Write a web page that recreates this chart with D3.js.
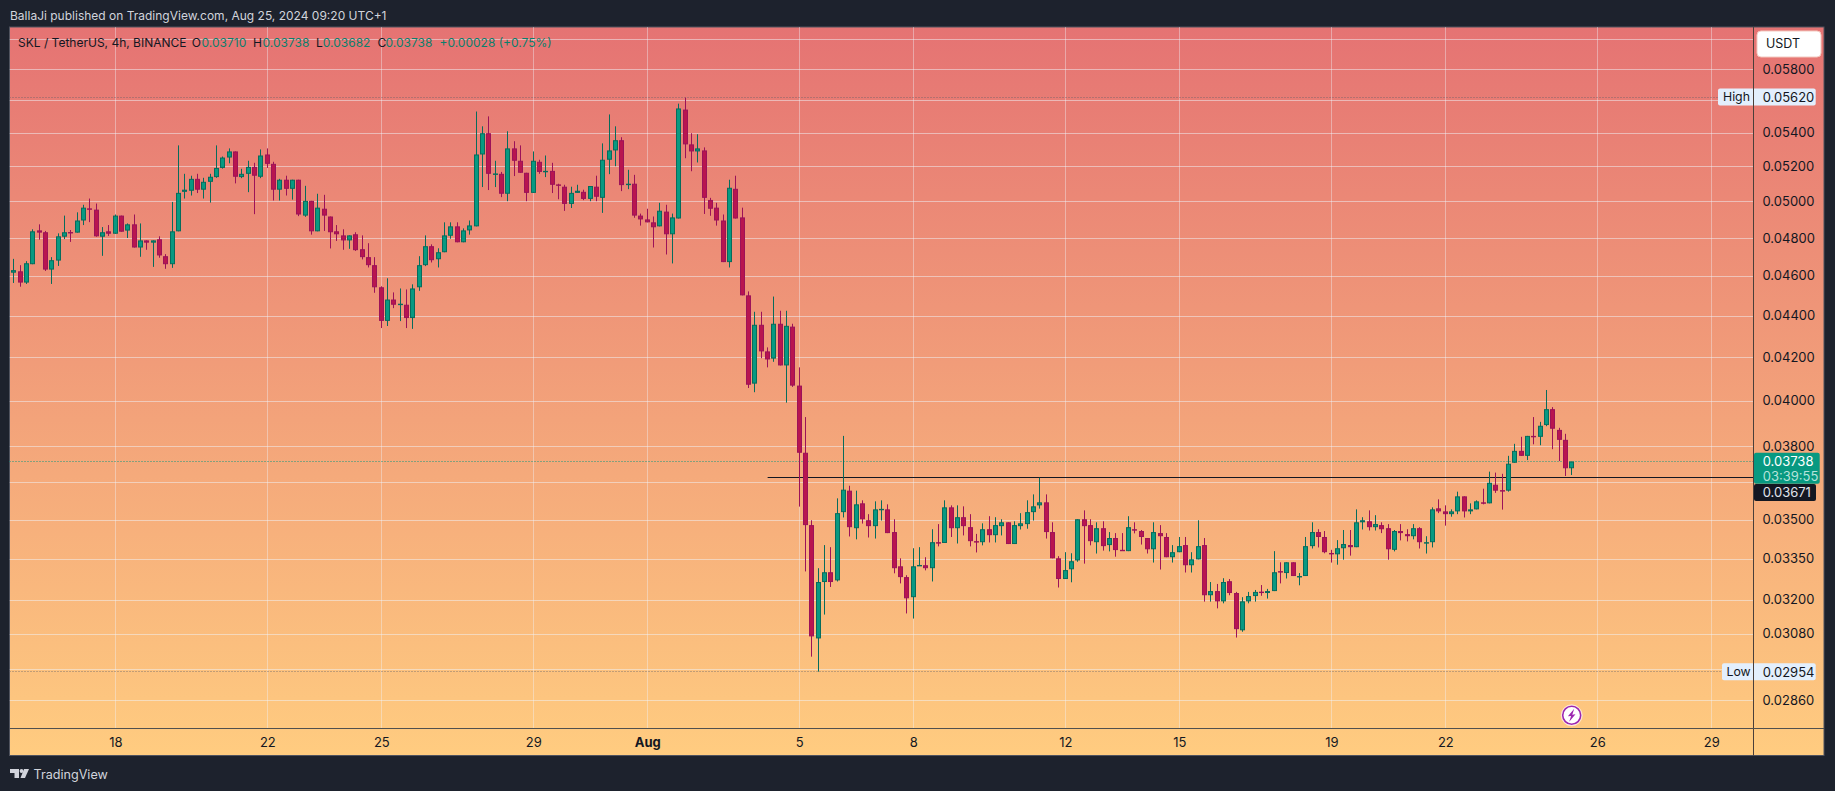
<!DOCTYPE html>
<html><head><meta charset="utf-8">
<script src="https://cdnjs.cloudflare.com/ajax/libs/d3/7.9.0/d3.min.js"></script>
<style>html,body{margin:0;padding:0;background:#1d222d;overflow:hidden}svg{display:block}
text{font-family:Inter,"Noto Sans",sans-serif}</style></head><body><div id="c"></div>
<script>
// Prices are in units of 0.00001 USDT
const priceUnit = 1e-5;
const opens = [4619,4626,4568,4663,4843,4833,4635,4682,4809,4834,4831,4897,4964,4957,4809,4838,4825,4924,4842,4876,
4751,4789,4777,4795,4705,4663,4838,5057,5063,5131,5069,5114,5141,5194,5255,5291,5141,5160,5200,5143,
5273,5218,5069,5126,5074,5126,4924,5006,4838,4962,4919,4838,4816,4789,4822,4742,4700,4658,4544,4376,
4482,4454,4456,4390,4544,4658,4758,4689,4726,4814,4865,4779,4843,4865,5273,5400,5158,5160,5046,5309,
5236,5166,5051,5230,5171,5177,5099,5086,4989,5051,5057,5017,5086,5023,5242,5297,5358,5099,5103,4924,
4903,4887,4865,4946,4822,4908,5545,5333,5291,5297,5011,4968,4897,4674,5074,4914,4503,4079,4357,4229,
4195,4362,4163,4348,4070,3775,3481,3066,3266,3302,3272,3532,3618,3469,3567,3500,3477,3541,3543,3454,
3324,3284,3211,3327,3328,3317,3415,3412,3551,3469,3512,3473,3419,3415,3465,3442,3477,3492,3408,3477,
3485,3532,3559,3571,3454,3354,3277,3313,3346,3504,3481,3415,3469,3404,3431,3386,3381,3465,3458,3431,
3388,3450,3435,3358,3377,3404,3328,3350,3404,3218,3233,3196,3269,3226,3094,3196,3215,3231,3226,3233,
3306,3299,3339,3284,3288,3400,3454,3435,3374,3369,3392,3404,3396,3492,3496,3473,3481,3469,3386,3458,
3446,3438,3469,3413,3415,3547,3535,3524,3535,3595,3535,3543,3571,3567,3642,3620,3618,3733,3783,3762,
3847,3843,3894,3964,3873,3830,3710];
const highs = [4691,4658,4679,4849,4876,4840,4700,4827,4924,4845,4942,4984,5019,4991,4861,4872,4930,4924,4881,4930,
4881,4789,4789,4811,4716,5000,5327,5160,5149,5160,5137,5160,5327,5261,5309,5291,5189,5236,5224,5303,
5309,5230,5131,5149,5126,5126,5091,5006,5046,5040,4919,4872,4849,4816,4833,4816,4774,4700,4549,4590,
4518,4538,4533,4559,4705,4816,4768,4747,4887,4887,4887,4854,4897,5533,5442,5503,5236,5171,5412,5352,
5327,5166,5291,5242,5267,5224,5103,5097,5086,5097,5069,5090,5149,5339,5515,5442,5376,5183,5154,4935,
4962,4919,4995,4984,4935,5582,5620,5400,5394,5315,5023,4995,4930,5126,5149,4968,4523,4421,4421,4248,
4497,4426,4426,4362,4154,3929,3500,3317,3404,3396,3587,3847,3638,3618,3579,3524,3575,3579,3563,3504,
3354,3291,3392,3396,3358,3465,3485,3579,3559,3559,3555,3524,3447,3488,3516,3512,3504,3492,3496,3528,
3579,3603,3671,3603,3492,3362,3377,3373,3504,3539,3504,3492,3496,3454,3450,3450,3516,3492,3462,3431,
3492,3481,3450,3404,3435,3435,3377,3500,3431,3266,3259,3280,3277,3230,3211,3230,3237,3255,3241,3381,
3339,3339,3339,3299,3435,3492,3465,3458,3386,3423,3462,3462,3543,3512,3539,3520,3492,3485,3462,3485,
3465,3485,3473,3438,3551,3583,3559,3543,3614,3595,3567,3579,3626,3696,3692,3687,3762,3813,3843,3847,
3929,3908,4050,3973,3882,3856,3738];
const lows = [4566,4547,4561,4663,4793,4628,4561,4654,4796,4781,4831,4872,4888,4809,4707,4813,4825,4836,4802,4751,
4702,4739,4649,4697,4639,4644,4838,5019,5036,5050,5019,4996,5137,5190,5221,5105,5135,5055,4932,5135,
5194,5008,5008,5036,5013,4921,4917,4820,4838,4840,4746,4786,4739,4744,4733,4688,4646,4516,4341,4351,
4439,4375,4341,4337,4526,4653,4672,4646,4726,4798,4779,4779,4820,4865,5084,5067,5084,5027,5004,5147,
5166,5004,5051,5160,5141,5050,5015,4950,4966,5051,5010,5004,5004,4939,5158,5204,5061,5072,4912,4869,
4887,4751,4865,4714,4667,4908,5251,5175,5226,4933,4923,4869,4674,4646,4908,4503,4059,4040,4197,4154,
4180,4163,3993,4064,3554,3305,3004,2954,3149,3248,3268,3511,3437,3426,3487,3433,3429,3499,3450,3298,
3261,3153,3135,3327,3309,3268,3399,3412,3435,3410,3441,3399,3376,3403,3414,3414,3441,3408,3408,3464,
3467,3499,3546,3429,3354,3246,3277,3265,3341,3334,3403,3372,3383,3380,3360,3382,3381,3449,3406,3372,
3338,3312,3358,3338,3377,3301,3301,3350,3195,3195,3171,3189,3218,3069,3089,3189,3195,3216,3206,3233,
3261,3279,3288,3254,3288,3391,3395,3373,3338,3330,3349,3364,3396,3464,3460,3460,3450,3349,3380,3422,
3418,3426,3391,3372,3395,3528,3479,3514,3524,3511,3524,3543,3563,3567,3609,3542,3614,3733,3762,3744,
3811,3807,3889,3790,3740,3678,3682];
const closes = [4632,4568,4668,4838,4831,4635,4684,4811,4833,4829,4897,4968,4960,4811,4833,4825,4924,4836,4876,4751,
4789,4777,4789,4709,4663,4838,5051,5069,5131,5069,5114,5143,5194,5255,5291,5143,5160,5200,5149,5267,
5218,5069,5126,5074,5126,4930,5006,4838,4968,4924,4833,4822,4789,4816,4737,4700,4658,4544,4376,4482,
4456,4461,4390,4538,4658,4758,4684,4726,4816,4865,4779,4843,4870,5273,5400,5160,5162,5046,5309,5236,
5166,5051,5236,5171,5177,5097,5095,4989,5051,5063,5017,5090,5029,5242,5297,5358,5095,5103,4924,4903,
4887,4860,4951,4822,4914,5552,5333,5291,5309,5023,4962,4897,4674,5080,4908,4503,4074,4357,4229,4191,
4362,4163,4352,4070,3775,3481,3073,3266,3302,3266,3528,3622,3473,3563,3504,3477,3543,3545,3450,3317,
3284,3207,3324,3329,3317,3415,3410,3551,3469,3512,3477,3419,3417,3465,3442,3481,3492,3408,3481,3488,
3532,3555,3571,3454,3354,3277,3310,3343,3504,3477,3419,3469,3400,3431,3385,3382,3473,3462,3435,3388,
3454,3438,3358,3377,3400,3328,3350,3400,3218,3233,3196,3266,3226,3098,3196,3215,3230,3228,3233,3302,
3302,3339,3288,3288,3400,3454,3435,3377,3372,3392,3408,3396,3492,3500,3473,3485,3465,3388,3458,3450,
3438,3469,3415,3415,3543,3535,3524,3535,3595,3535,3543,3575,3568,3650,3618,3617,3729,3783,3762,3847,
3843,3891,3964,3878,3830,3710,3738];

const priceTicks = [0.06,0.058,0.056,0.054,0.052,0.05,0.048,0.046,0.044,0.042,0.04,0.038,0.0365,0.035,0.0335,0.032,0.0308,0.0296,0.0286];
const hiddenPriceLabels = [0.06,0.056,0.0365,0.0296];
const dateTicks = ["2024-07-18","2024-07-22","2024-07-25","2024-07-29","2024-08-01","2024-08-05","2024-08-08","2024-08-12","2024-08-15","2024-08-19","2024-08-22","2024-08-26","2024-08-29"];
const dateLabels = ["18","22","25","29","Aug","5","8","12","15","19","22","26","29"];
const firstCandle = Date.UTC(2024,6,15,8);
const candleMs = 4*3600*1000;
const highPrice = 0.0562, lowPrice = 0.02954, lastPrice = 0.03738, linePrice = 0.03671;
const lineStart = Date.UTC(2024,7,4,4);
const legendLead = "SKL / TetherUS, 4h, BINANCE";
const legendParts = [["O","0.03710"],["H","0.03738"],["L","0.03682"],["C","0.03738"]];
const legendChange = "+0.00028 (+0.75%)";

const W=1835,H=791;
const frame={l:9.5,t:27,r:1824,b:755.5}, axisX=1753.5, axisY=728;
const svg=d3.select("#c").append("svg").attr("width",W).attr("height",H);
const defs=svg.append("defs");
const g=defs.append("linearGradient").attr("id","bg").attr("x1",0).attr("x2",0).attr("y1",0).attr("y2",1);
g.append("stop").attr("offset",0).attr("stop-color","#e57373");
g.append("stop").attr("offset",1).attr("stop-color","#ffcc80");
defs.append("clipPath").attr("id","pane").append("rect").attr("x",frame.l).attr("y",frame.t).attr("width",axisX-frame.l).attr("height",axisY-frame.t);

svg.append("rect").attr("width",W).attr("height",H).attr("fill","#1d222d");
svg.append("rect").attr("x",frame.l).attr("y",frame.t).attr("width",frame.r-frame.l).attr("height",frame.b-frame.t)
  .attr("fill","url(#bg)").attr("stroke","#50535e").attr("stroke-width",1);

const parseD=d=>new Date(d+"T00:00:00Z");
const x=d3.scaleUtc().domain([parseD("2024-07-18"),parseD("2024-08-29")]).range([115.3,1711.3]);
const y=d3.scaleLog().domain([0.06,0.0286]).range([39.2,700.5]);
const px=v=>Math.floor(v)+0.5;

// grid
const grid=svg.append("g").attr("clip-path","url(#pane)");
grid.selectAll(".v").data(dateTicks).join("line").attr("x1",d=>px(x(parseD(d)))).attr("x2",d=>px(x(parseD(d))))
  .attr("y1",frame.t).attr("y2",axisY).attr("stroke","#f0f3fa").attr("stroke-opacity",.4);
grid.selectAll(".h").data(priceTicks).join("line").attr("y1",d=>px(y(d))).attr("y2",d=>px(y(d)))
  .attr("x1",frame.l).attr("x2",axisX).attr("stroke","#f0f3fa").attr("stroke-opacity",.5);

// dotted lines
const dots=svg.append("g");
[[highPrice,1718,"#5d5f68",.75],[lowPrice,1722,"#5d5f68",.75],[lastPrice,axisX,"#089981",.95]].forEach(([p,x2,c,op])=>{
  dots.append("line").attr("x1",frame.l).attr("x2",x2).attr("y1",px(y(p))).attr("y2",px(y(p)))
    .attr("stroke",c).attr("stroke-opacity",op).attr("stroke-dasharray","1 2");
});
// horizontal support line
svg.append("line").attr("x1",x(new Date(lineStart))).attr("x2",axisX).attr("y1",px(y(linePrice))).attr("y2",px(y(linePrice)))
  .attr("stroke","#131722").attr("stroke-width",1.2);

// candles
const candles=opens.map((o,i)=>({t:new Date(firstCandle+i*candleMs),o:o*priceUnit,h:highs[i]*priceUnit,l:lows[i]*priceUnit,c:closes[i]*priceUnit}));
const up="#089981",upB="#076c5c",dn="#b8154f",dnB="#9c1259";
const cg=svg.append("g").selectAll("g").data(candles).join("g");
cg.append("line").attr("x1",d=>px(x(d.t))).attr("x2",d=>px(x(d.t))).attr("y1",d=>y(d.h)).attr("y2",d=>y(d.l))
  .attr("stroke",d=>d.c>=d.o?upB:dnB);
cg.append("rect").attr("x",d=>px(x(d.t))-2).attr("width",4)
  .attr("y",d=>y(Math.max(d.o,d.c))+.5).attr("height",d=>Math.max(0.4,y(Math.min(d.o,d.c))-y(Math.max(d.o,d.c))-1))
  .attr("fill",d=>d.c>=d.o?up:dn).attr("stroke",d=>d.c>=d.o?upB:dnB);

// axis separators
svg.append("line").attr("x1",axisX).attr("x2",axisX).attr("y1",frame.t).attr("y2",frame.b).attr("stroke","#4a3f3a");
svg.append("line").attr("x1",frame.l).attr("x2",frame.r).attr("y1",axisY+.5).attr("y2",axisY+.5).attr("stroke","#50504e");

// price axis
const fmt=d3.format(".5f");
const yAxis=d3.axisRight(y).tickValues(priceTicks.filter(p=>!hiddenPriceLabels.includes(p))).tickFormat(fmt).tickSize(0).tickPadding(9);
const yg=svg.append("g").attr("transform",`translate(${axisX},0)`).call(yAxis);
yg.select(".domain").remove();
yg.selectAll("text").attr("fill","#131722").attr("font-size",13).attr("font-family","Inter").attr("dy","0.28em");

// time axis
const xAxis=d3.axisBottom(x).tickValues(dateTicks.map(parseD)).tickFormat((d,i)=>dateLabels[i]).tickSize(0).tickPadding(10);
const xg=svg.append("g").attr("transform",`translate(0,${axisY})`).call(xAxis);
xg.select(".domain").remove();
xg.selectAll("text").attr("fill","#131722").attr("font-size",13).attr("font-family","Inter")
  .attr("font-weight",(d,i)=>dateLabels[i]==="Aug"?700:400);

// labels on the price axis
function tag(x0,x1,cy,h,fill,rx){svg.append("rect").attr("x",x0).attr("y",cy-h/2).attr("width",x1-x0).attr("height",h).attr("rx",rx||2).attr("fill",fill);}
function txt(t,xx,yy,fill,size,anchor,w){return svg.append("text").attr("x",xx).attr("y",yy).attr("fill",fill).attr("font-size",size||13).attr("text-anchor",anchor||"start").attr("dominant-baseline","central").attr("font-weight",w||400).text(t);}
const labelX=1762.7;
tag(1718,1815.7,y(highPrice)-0.5,17,"#e3effd");
svg.append("line").attr("x1",axisX).attr("x2",axisX).attr("y1",88).attr("y2",107).attr("stroke","#4a3f3a");
txt("High",1723,y(highPrice)-1,"#131722",12.3);
txt(fmt(highPrice),labelX,y(highPrice)-1,"#131722");
tag(1722,1815.7,y(lowPrice),17,"#e3effd");
svg.append("line").attr("x1",axisX).attr("x2",axisX).attr("y1",662).attr("y2",681).attr("stroke","#4a3f3a");
txt("Low",1726.5,y(lowPrice),"#131722",12.3);
txt(fmt(lowPrice),labelX,y(lowPrice),"#131722");
tag(1754,1819.7,468.3,31,"#089981");
txt(fmt(lastPrice),labelX,461,"#ffffff");
txt("03:39:55",labelX,475.5,"#b5e3da");
tag(1754,1816,492.5,17,"#131722");
txt(fmt(linePrice),labelX,492,"#e0e3eb");
// currency button
svg.append("rect").attr("x",1757).attr("y",31).attr("width",64).attr("height",26).attr("rx",4).attr("fill","#ffffff").attr("stroke","#f3c9c0");
txt("USDT",1766,43.5,"#131722",12.5);

// legend
txt(legendLead,18,42.7,"#131722",12);
const legendX=[191.7,253,316,377.5];
const legendValueX=[201.6,262.5,322.8,385.5];
const legendGreen="#0b7f6c";
legendParts.forEach(([k,v],i)=>{txt(k,legendX[i],42.7,"#131722",12);txt(v,legendValueX[i],42.7,legendGreen,12);});
txt(legendChange,439.5,42.7,legendGreen,12);

// header
txt("BallaJi published on TradingView.com, Aug 25, 2024 09:20 UTC+1",10,15.7,"#d1d4dc",12);

// event marker
const mk=svg.append("g").attr("transform",`translate(1571.7,715.3)`);
mk.append("circle").attr("r",10.5).attr("fill","#fff").attr("stroke","#ffe3cc");
mk.append("circle").attr("r",9).attr("fill","#fff").attr("stroke","#9c27b0").attr("stroke-width",1.6);
mk.append("path").attr("d","M2.5,-6.5 L-3.8,1 L-0.6,0.6 L-2.5,6.5 L3.8,-1 L0.6,-0.6 Z").attr("fill","#9c27b0");

// footer logo
const logo=svg.append("g").attr("fill","#d1d4dc");
logo.append("path").attr("d","M10,769 H19 V778 H14.5 V773 H10 Z");
logo.append("circle").attr("cx",21.5).attr("cy",771).attr("r",1.9);
logo.append("path").attr("d","M24,769 H29 L25,778 H20.5 Z");
txt("TradingView",33.5,774.3,"#d1d4dc",12.6);
</script></body></html>
